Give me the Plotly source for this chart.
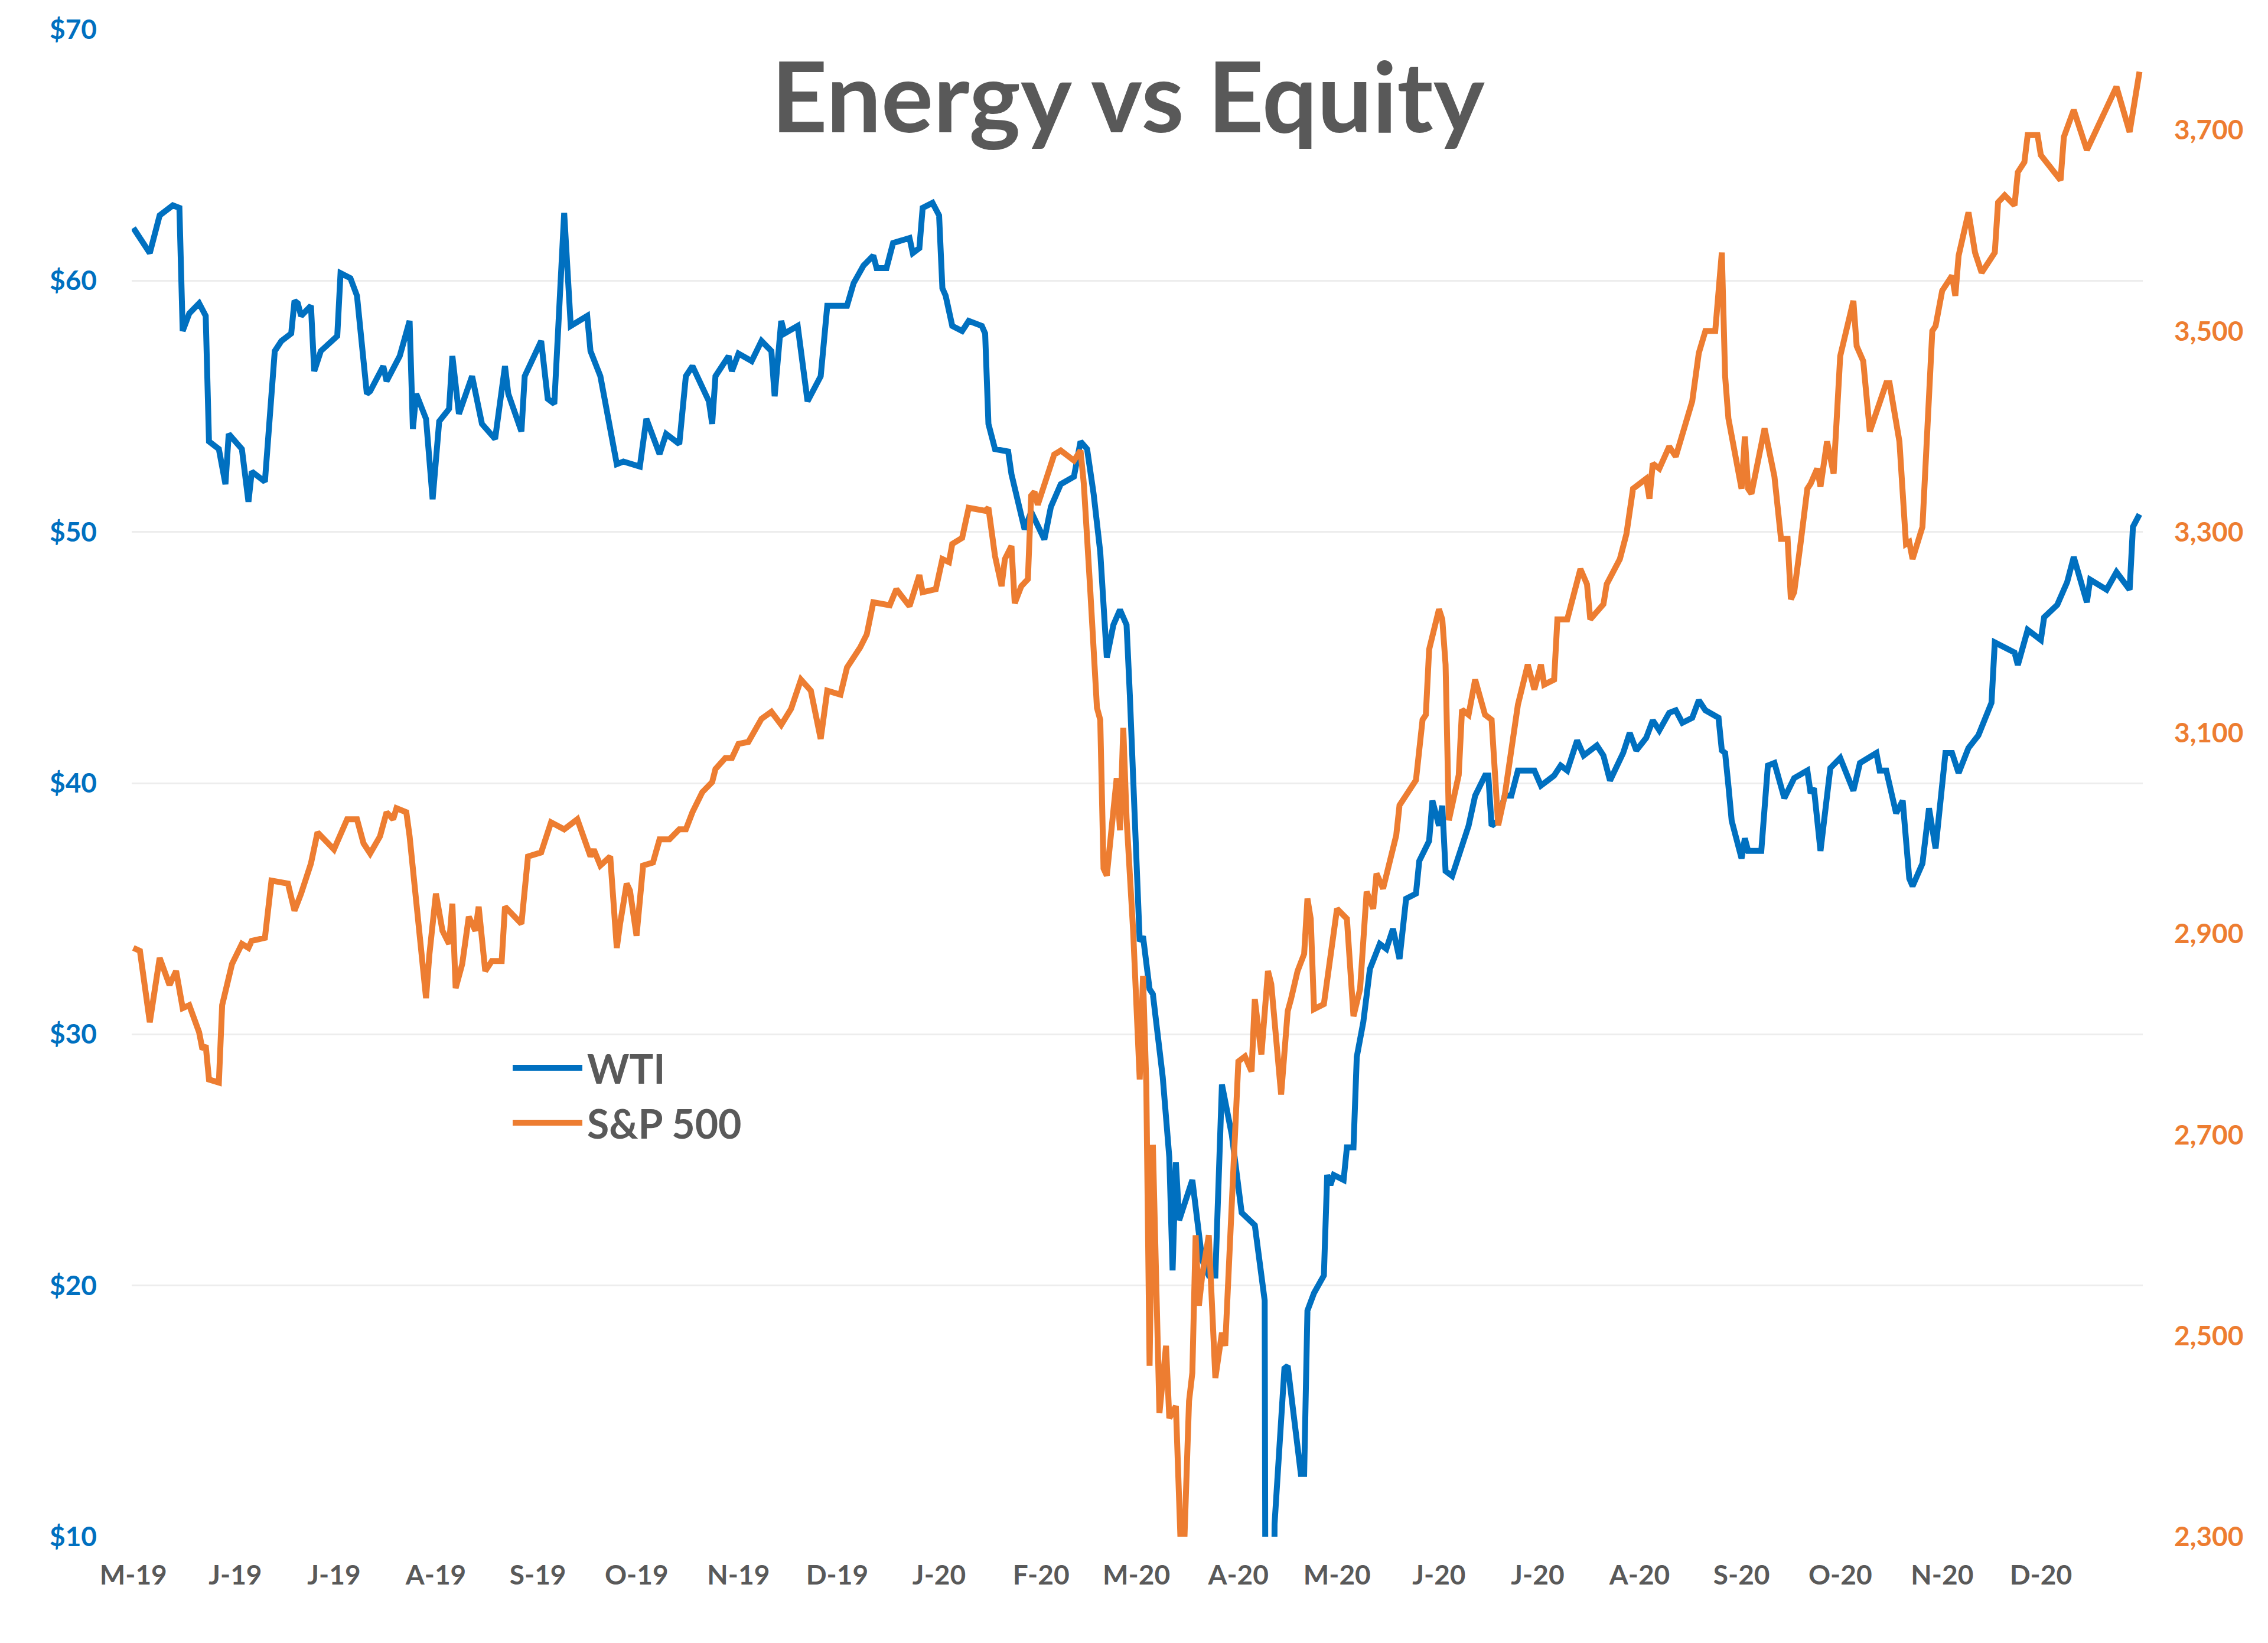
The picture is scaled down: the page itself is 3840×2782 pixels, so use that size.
import pandas as pd
import plotly.graph_objects as go

# ---------------- data ----------------
START_DATE = "2019-05-01"

# WTI crude ($/bbl): day offsets from START_DATE and prices
wti_day = [0, 5, 8, 12, 14, 15, 17, 20, 22, 23, 26, 28, 29, 33, 35, 36, 40, 41, 43, 45,
           48, 49, 50, 51, 54, 55, 57, 62, 63, 66, 68, 71, 72, 76, 77, 81, 84, 85, 86, 89,
           91, 93, 96, 97, 99, 103, 106, 110, 113, 114, 118, 119, 124, 126, 128, 131, 133, 138, 139, 142,
           147, 149, 154, 156, 160, 162, 166, 168, 170, 175, 176, 177, 181, 182, 184, 188, 191, 194, 195, 197,
           198, 202, 205, 209, 211, 217, 219, 222, 225, 226, 229, 231, 236, 237, 239, 240, 243, 245, 246, 247,
           249, 252, 254, 258, 259, 260, 262, 266, 267, 271, 273, 277, 279, 282, 286, 288, 290, 292, 294, 296,
           298, 300, 302, 303, 306, 307, 309, 310, 313, 315, 316, 317, 318, 319, 322, 325, 327, 329, 331, 334,
           336, 337, 341, 343, 344, 345, 347, 350, 351, 355, 356, 357, 359, 362, 363, 364, 365, 368, 369, 371,
           372, 374, 376, 379, 381, 383, 385, 387, 390, 391, 394, 395, 397, 398, 399, 401, 405, 406, 408, 411,
           412, 413, 415, 417, 419, 421, 426, 428, 430, 432, 434, 436, 439, 441, 445, 447, 449, 453, 455, 457,
           460, 462, 464, 467, 469, 471, 474, 476, 478, 482, 483, 484, 485, 486, 489, 490, 491, 495, 497, 499,
           502, 505, 509, 510, 511, 513, 516, 519, 523, 525, 530, 531, 533, 536, 538, 540, 541, 544, 546, 548,
           551, 553, 555, 558, 561, 565, 566, 572, 573, 576, 580, 581, 585, 588, 590, 594, 595, 600, 603, 607,
           608, 610]
wti_price = [62.1, 61.1, 62.6, 63.0, 62.9, 58.0, 58.7, 59.1, 58.6, 53.6, 53.3, 51.9, 53.9, 53.3, 51.2, 52.4, 52.0, 53.9, 57.2, 57.6,
             57.9, 59.2, 59.1, 58.6, 59.0, 56.4, 57.2, 57.8, 60.3, 60.1, 59.4, 55.5, 55.6, 56.6, 56.0, 57.0, 58.4, 54.1, 55.5, 54.5,
             51.3, 54.4, 54.9, 57.0, 54.7, 56.2, 54.3, 53.7, 56.6, 55.5, 54.0, 56.2, 57.6, 55.3, 55.1, 62.7, 58.2, 58.6, 57.2, 56.2,
             52.7, 52.8, 52.6, 54.5, 53.1, 53.9, 53.5, 56.2, 56.6, 55.2, 54.3, 56.2, 57.0, 56.4, 57.1, 56.8, 57.6, 57.2, 55.4, 58.4,
             57.9, 58.2, 55.2, 56.2, 59.0, 59.0, 59.9, 60.6, 61.0, 60.5, 60.5, 61.5, 61.7, 61.1, 61.3, 62.9, 63.1, 62.6, 59.7, 59.4,
             58.2, 58.0, 58.4, 58.2, 57.9, 54.3, 53.3, 53.2, 52.3, 50.1, 50.8, 49.7, 51.0, 51.9, 52.2, 53.6, 53.3, 51.5, 49.2, 45.0,
             46.3, 46.9, 46.3, 43.5, 33.7, 33.9, 31.8, 31.6, 28.3, 25.1, 20.6, 24.9, 22.6, 23.0, 24.2, 21.0, 20.4, 20.4, 28.0, 26.0,
             24.0, 22.9, 22.4, 20.1, 19.4, -37.6, 10.5, 16.7, 16.8, 12.5, 12.5, 19.0, 19.7, 20.4, 24.4, 24.0, 24.4, 24.2, 25.5, 25.5,
             29.1, 30.5, 32.6, 33.6, 33.4, 34.2, 33.0, 35.4, 35.6, 36.9, 37.7, 39.3, 38.3, 39.1, 36.5, 36.3, 37.9, 38.3, 39.5, 40.3,
             40.3, 38.3, 38.5, 39.5, 39.5, 40.5, 40.5, 39.9, 40.1, 40.3, 40.7, 40.5, 41.7, 41.1, 41.5, 41.1, 40.1, 41.2, 42.0, 41.3,
             41.8, 42.5, 42.1, 42.8, 42.9, 42.4, 42.6, 43.3, 42.9, 42.6, 41.3, 41.2, 39.9, 38.5, 37.0, 37.8, 37.3, 37.3, 40.7, 40.8,
             39.4, 40.2, 40.5, 39.6, 39.8, 37.3, 40.6, 41.0, 39.7, 40.8, 41.2, 40.5, 40.5, 38.8, 39.3, 36.2, 35.9, 36.8, 39.0, 37.4,
             41.2, 41.2, 40.4, 41.4, 41.9, 43.2, 45.6, 45.2, 44.7, 46.1, 45.7, 46.6, 47.1, 48.0, 49.0, 47.2, 48.1, 47.7, 48.4, 47.7,
             50.2, 50.7]

# S&P 500 index level: day offsets from START_DATE and closes
spx_day = [0, 2, 5, 8, 11, 13, 15, 17, 20, 21, 22, 23, 26, 27, 30, 33, 35, 36, 40, 42,
           47, 49, 51, 54, 56, 61, 65, 68, 70, 72, 75, 77, 79, 80, 83, 84, 89, 90, 92, 94,
           96, 97, 98, 100, 102, 104, 105, 107, 109, 112, 113, 118, 120, 124, 127, 131, 135, 139, 140, 142,
           145, 147, 148, 150, 151, 153, 155, 158, 160, 163, 166, 168, 170, 173, 176, 177, 180, 182, 184, 187,
           191, 194, 197, 200, 203, 206, 209, 211, 215, 217, 221, 223, 225, 230, 232, 236, 239, 240, 244, 246,
           248, 249, 252, 254, 259, 260, 262, 264, 265, 267, 268, 270, 272, 273, 274, 275, 278, 280, 282, 286,
           288, 289, 291, 293, 294, 295, 296, 299, 300, 301, 302, 304, 306, 307, 308, 309, 310, 312, 314, 315,
           317, 319, 321, 322, 323, 324, 325, 327, 329, 331, 332, 334, 336, 338, 340, 341, 343, 345, 346, 349,
           351, 352, 354, 356, 357, 358, 359, 362, 363, 366, 369, 371, 373, 375, 377, 378, 380, 384, 385, 390,
           392, 393, 394, 397, 398, 399, 400, 403, 404, 406, 408, 411, 413, 414, 415, 417, 419, 421, 424, 426,
           428, 429, 432, 433, 436, 440, 442, 443, 447, 448, 452, 454, 456, 460, 461, 462, 464, 467, 469, 474,
           476, 478, 481, 483, 484, 485, 489, 490, 491, 492, 496, 499, 501, 503, 504, 505, 507, 509, 510, 512,
           513, 515, 517, 519, 523, 524, 526, 528, 533, 534, 537, 539, 540, 541, 544, 547, 548, 550, 553, 554,
           555, 558, 560, 562, 566, 567, 569, 572, 573, 575, 576, 579, 580, 586, 587, 590, 594, 600, 603, 607,
           610]
spx_level = [2886, 2883, 2812, 2876, 2849, 2863, 2826, 2829, 2802, 2785, 2789, 2755, 2752, 2829, 2870, 2890, 2886, 2893, 2896, 2953,
             2950, 2923, 2940, 2970, 3001, 2984, 3014, 3014, 2990, 2980, 2997, 3021, 3014, 3025, 3021, 2997, 2836, 2879, 2940, 2903,
             2890, 2930, 2846, 2870, 2917, 2903, 2927, 2863, 2873, 2873, 2927, 2910, 2977, 2981, 3011, 3004, 3014, 2977, 2984, 2968,
             2977, 2886, 2910, 2950, 2943, 2898, 2968, 2971, 2994, 2994, 3004, 3004, 3021, 3041, 3051, 3064, 3075, 3075, 3089, 3091,
             3114, 3121, 3108, 3124, 3153, 3142, 3094, 3142, 3138, 3165, 3185, 3198, 3230, 3227, 3243, 3226, 3257, 3240, 3243, 3273,
             3270, 3288, 3294, 3324, 3321, 3324, 3276, 3246, 3273, 3286, 3229, 3246, 3253, 3336, 3340, 3327, 3357, 3377, 3381, 3371,
             3381, 3348, 3240, 3125, 3113, 2965, 2958, 3055, 3003, 3105, 3015, 2903, 2755, 2858, 2750, 2470, 2690, 2423, 2490, 2418,
             2430, 2240, 2435, 2463, 2600, 2530, 2560, 2600, 2458, 2503, 2490, 2633, 2773, 2778, 2763, 2835, 2780, 2863, 2850, 2740,
             2823, 2835, 2863, 2880, 2935, 2915, 2825, 2830, 2853, 2925, 2915, 2818, 2845, 2942, 2925, 2960, 2945, 2998, 3028, 3053,
             3113, 3118, 3183, 3223, 3213, 3168, 3013, 3058, 3123, 3118, 3153, 3118, 3113, 3058, 3008, 3038, 3083, 3128, 3168, 3143,
             3168, 3148, 3153, 3213, 3213, 3263, 3248, 3213, 3228, 3248, 3273, 3298, 3343, 3353, 3333, 3368, 3363, 3385, 3375, 3430,
             3478, 3500, 3500, 3578, 3455, 3413, 3343, 3395, 3343, 3338, 3403, 3355, 3293, 3293, 3233, 3240, 3290, 3343, 3348, 3363,
             3345, 3390, 3358, 3475, 3530, 3485, 3470, 3400, 3448, 3448, 3390, 3288, 3290, 3273, 3305, 3500, 3505, 3540, 3555, 3535,
             3575, 3618, 3578, 3558, 3578, 3628, 3635, 3625, 3658, 3668, 3695, 3695, 3675, 3650, 3693, 3720, 3680, 3723, 3743, 3698,
             3758]

# x-axis month ticks and their labels
tick_months = pd.date_range("2019-05-01", "2020-12-01", freq="MS")
tick_labels = ["M-19", "J-19", "J-19", "A-19", "S-19", "O-19", "N-19", "D-19", "J-20", "F-20",
               "M-20", "A-20", "M-20", "J-20", "J-20", "A-20", "S-20", "O-20", "N-20", "D-20"]

# y-axis ticks
wti_ticks = [10, 20, 30, 40, 50, 60, 70]
wti_tick_labels = ["$10", "$20", "$30", "$40", "$50", "$60", "$70"]
spx_ticks = [2300, 2500, 2700, 2900, 3100, 3300, 3500, 3700]
spx_tick_labels = ["2,300", "2,500", "2,700", "2,900", "3,100", "3,300", "3,500", "3,700"]

title_text = "Energy vs Equity"
series_names = ["WTI", "S&P 500"]

# ---------------- styling / layout ----------------
W, H = 3840, 2782
L, R, T, B = 215, 220, 42, 188
PW, PH = W - L - R, H - T - B

BLUE = "#0070C0"
ORANGE = "#ED7D31"
GRAY = "#595959"
FONT = "Lato"
LW = 10

start = pd.Timestamp(START_DATE)
wti_x = start + pd.to_timedelta(wti_day, unit="D")
spx_x = start + pd.to_timedelta(spx_day, unit="D")

fig = go.Figure()
fig.add_trace(go.Scatter(x=wti_x, y=wti_price, mode="lines", name=series_names[0],
                         line=dict(color=BLUE, width=LW), yaxis="y"))
fig.add_trace(go.Scatter(x=spx_x, y=spx_level, mode="lines", name=series_names[1],
                         line=dict(color=ORANGE, width=LW), yaxis="y2"))


def px(xp):
    return (xp - L) / PW


def py(yp):
    return 1 - (yp - T) / PH


# manual legend (long line samples like the original)
legend_rows = [(series_names[0], BLUE, 1800), (series_names[1], ORANGE, 1893)]
shapes = []
annotations = []
for name, col, yy in legend_rows:
    shapes.append(dict(type="line", xref="paper", yref="paper",
                       x0=px(860), x1=px(978), y0=py(yy), y1=py(yy),
                       line=dict(color=col, width=LW)))
    annotations.append(dict(text=name, xref="paper", yref="paper",
                            x=px(984), y=py(yy), xanchor="left", yanchor="middle",
                            showarrow=False,
                            font=dict(family=FONT, size=68, color=GRAY, weight="bold")))

annotations.append(dict(text=title_text, xref="paper", yref="paper",
                        x=px(1902), y=py(152), xanchor="center", yanchor="middle",
                        showarrow=False,
                        font=dict(family=FONT, size=165, color=GRAY, weight="bold")))

fig.update_layout(
    width=W, height=H,
    margin=dict(l=L, r=R, t=T, b=B, pad=0),
    paper_bgcolor="white", plot_bgcolor="white",
    showlegend=False,
    shapes=shapes,
    annotations=annotations,
    xaxis=dict(
        type="date",
        range=[start - pd.Timedelta(hours=12), start + pd.Timedelta(days=611)],
        tickmode="array", tickvals=tick_months, ticktext=tick_labels,
        showgrid=False, zeroline=False, showline=False, ticks="",
        tickfont=dict(family=FONT, size=46, color=GRAY, weight="bold"),
        ticklabelstandoff=34,
    ),
    yaxis=dict(
        range=[10, 70], tickmode="array", tickvals=wti_ticks, ticktext=wti_tick_labels,
        showgrid=True, gridcolor="#EDEDED", gridwidth=3,
        zeroline=False, showline=False, ticks="",
        tickfont=dict(family=FONT, size=46, color=BLUE, weight="bold"),
        ticklabelstandoff=58,
    ),
    yaxis2=dict(
        range=[2300, 3800], overlaying="y", side="right",
        tickmode="array", tickvals=spx_ticks, ticktext=spx_tick_labels,
        showgrid=False, zeroline=False, showline=False, ticks="",
        tickfont=dict(family=FONT, size=46, color=ORANGE, weight="bold"),
        ticklabelstandoff=52,
    ),
)

fig.write_html("out.html")
